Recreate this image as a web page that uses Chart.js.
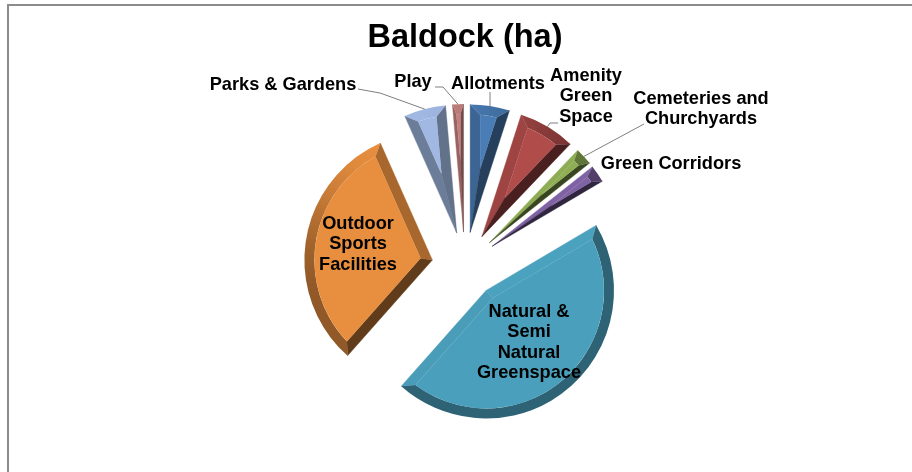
<!DOCTYPE html>
<html lang="en">
<head>
  <meta charset="UTF-8" />
  <title>Baldock (ha)</title>
  <script src="https://cdn.jsdelivr.net/npm/chart.js"></script>
  <style>
    html, body { margin: 0; padding: 0; background: #fff; overflow: hidden; }
    #frame { position: absolute; left: 7px; top: 4px; right: -4px; bottom: -4px; border-left: 2px solid #8c8c8c; border-top: 2px solid #8c8c8c; }
    canvas { position: absolute; left: 0; top: 0; }
  </style>
</head>
<body>
  <div id="frame"></div>
  <canvas id="pie" width="912" height="472"></canvas>
  <script>
    const chartTitle = 'Baldock (ha)';
    const categories = ['Allotments', 'Amenity Green Space', 'Cemeteries and Churchyards', 'Green Corridors',
      'Natural & Semi Natural Greenspace', 'Outdoor Sports Facilities', 'Parks & Gardens', 'Play'];
    // the picture has no numbers
    const hectares = [5.0, 7.2, 2.2, 2.2, 45.3, 32, 5.3, 1.4];
    const sliceColors = ['#4A7DB6', '#B04C4A', '#8FAE54', '#7F62A3', '#4AA0BC', '#E88F3F', '#A0B8E2', '#C27F7D'];
    const labelLines = [['Allotments'], ['Amenity', 'Green', 'Space'], ['Cemeteries and', 'Churchyards'], ['Green Corridors'],
      ['Natural &', 'Semi', 'Natural', 'Greenspace'], ['Outdoor', 'Sports', 'Facilities'], ['Parks & Gardens'], ['Play']];

    // label placement: x, y of first line, and the elbow of the leader line
    const labelSpots = [
      { x: 498, y: 84, line: [[490, 92]] },
      { x: 586, y: 76, line: [[558, 123], [550, 123]] },
      { x: 701, y: 99, line: [[644, 124]] },
      { x: 671, y: 164 },
      { x: 529, y: 312 },
      { x: 358, y: 224 },
      { x: 283, y: 85, line: [[358, 89], [380, 93]] },
      { x: 413, y: 82, line: [[435, 87], [443, 87]] }
    ];
    const lineStep = 20.4;

    function tint(color, f) {
      const n = parseInt(color.slice(1), 16);
      const c = [n >> 16, (n >> 8) & 255, n & 255].map(v => Math.min(255, Math.round(v * f)));
      return `rgb(${c[0]},${c[1]},${c[2]})`;
    }

    // light comes from upper left, clock angle in degrees
    const sideShade = (color, deg) => tint(color, 0.7 + 0.32 * Math.cos((deg - 340) * Math.PI / 180));
    const rimShade = (color, deg) => tint(color, 0.62 + 0.38 * Math.max(0, Math.cos((deg - 340) * Math.PI / 180)) ** 2);

    function explodedTip(arc) {
      const mid = (arc.startAngle + arc.endAngle) / 2;
      const d = arc.options.offset;
      return { x: arc.x + Math.cos(mid) * d, y: arc.y + Math.sin(mid) * d };
    }

    class BevelArc extends Chart.ArcElement {
      static id = 'bevelArc';

      draw(ctx) {
        const { startAngle: a0, endAngle: a1, outerRadius: r } = this;
        const color = this.options.backgroundColor;
        const tip = explodedTip(this);
        const half = (a1 - a0) / 2;
        const mid = a0 + half;
        const toClock = rad => rad * 180 / Math.PI + 90;
        const at = (ang, rad) => [tip.x + Math.cos(ang) * rad, tip.y + Math.sin(ang) * rad];

        const rimBevel = 10;
        const sideBevel = Math.min(10, 0.55 * r * Math.sin(half));
        const rInner = r - rimBevel;
        const delta = Math.asin(sideBevel / rInner);
        const innerTipDist = sideBevel / Math.sin(half);
        const innerTip = at(mid, innerTipDist);

        const poly = (pts, fill) => {
          ctx.beginPath();
          pts.forEach((p, i) => i ? ctx.lineTo(p[0], p[1]) : ctx.moveTo(p[0], p[1]));
          ctx.closePath();
          ctx.fillStyle = fill;
          ctx.fill();
          ctx.strokeStyle = fill;
          ctx.lineWidth = 0.4;
          ctx.stroke();
        };

        ctx.save();
        // side facets
        poly([[tip.x, tip.y], at(a0, r), at(a0 + delta, rInner), innerTip], sideShade(color, toClock(a0) - 90));
        poly([[tip.x, tip.y], at(a1, r), at(a1 - delta, rInner), innerTip], sideShade(color, toClock(a1) + 90));

        // rim facet, colour follows the outward direction
        const grad = ctx.createConicGradient(0, tip.x, tip.y);
        const stops = 72;
        for (let i = 0; i <= stops; i++) {
          grad.addColorStop(i / stops, rimShade(color, i * 5 + 90));
        }
        ctx.beginPath();
        ctx.arc(tip.x, tip.y, r, a0, a1);
        ctx.lineTo(...at(a1 - delta, rInner));
        ctx.arc(tip.x, tip.y, rInner, a1 - delta, a0 + delta, true);
        ctx.closePath();
        ctx.fillStyle = grad;
        ctx.fill();

        // top face
        ctx.beginPath();
        ctx.moveTo(innerTip[0], innerTip[1]);
        ctx.arc(tip.x, tip.y, rInner, a0 + delta, a1 - delta);
        ctx.closePath();
        ctx.fillStyle = color;
        ctx.fill();
        ctx.restore();
      }
    }

    class BevelPie extends Chart.PieController {
      static id = 'bevelPie';
      static defaults = { dataElementType: 'bevelArc' };
    }

    Chart.register(BevelArc, BevelPie);

    const sliceLabels = {
      id: 'sliceLabels',
      afterDatasetsDraw(chart) {
        const { ctx } = chart;
        const arcs = chart.getDatasetMeta(0).data;
        ctx.save();
        arcs.forEach((arc, i) => {
          const spot = labelSpots[i];
          if (spot.line) {
            const tip = explodedTip(arc);
            const mid = (arc.startAngle + arc.endAngle) / 2;
            ctx.beginPath();
            spot.line.forEach((p, k) => k ? ctx.lineTo(p[0], p[1]) : ctx.moveTo(p[0], p[1]));
            ctx.lineTo(tip.x + Math.cos(mid) * arc.outerRadius, tip.y + Math.sin(mid) * arc.outerRadius);
            ctx.strokeStyle = '#7f7f7f';
            ctx.lineWidth = 1;
            ctx.stroke();
          }
        });
        ctx.fillStyle = '#000';
        ctx.font = 'bold 18.2px "Liberation Sans", Arial, sans-serif';
        ctx.textAlign = 'center';
        ctx.textBaseline = 'middle';
        arcs.forEach((arc, i) => {
          labelLines[i].forEach((txt, k) => {
            ctx.fillText(txt, labelSpots[i].x, labelSpots[i].y + k * lineStep);
          });
        });
        ctx.restore();
      }
    };

    new Chart(document.getElementById('pie'), {
      type: 'bevelPie',
      data: {
        labels: categories,
        datasets: [{
          data: hectares,
          backgroundColor: sliceColors,
          borderWidth: 0,
          offset: 33,
          radius: 128
        }]
      },
      options: {
        responsive: false,
        animation: false,
        layout: { padding: { left: 18 } },
        plugins: {
          legend: { display: false },
          tooltip: { enabled: false },
          title: {
            display: true,
            text: chartTitle,
            color: '#000',
            font: { family: '"Liberation Sans", Arial, sans-serif', size: 32.5, weight: 'bold' },
            padding: { top: 19, bottom: 0 }
          }
        }
      },
      plugins: [sliceLabels]
    });
  </script>
</body>
</html>
